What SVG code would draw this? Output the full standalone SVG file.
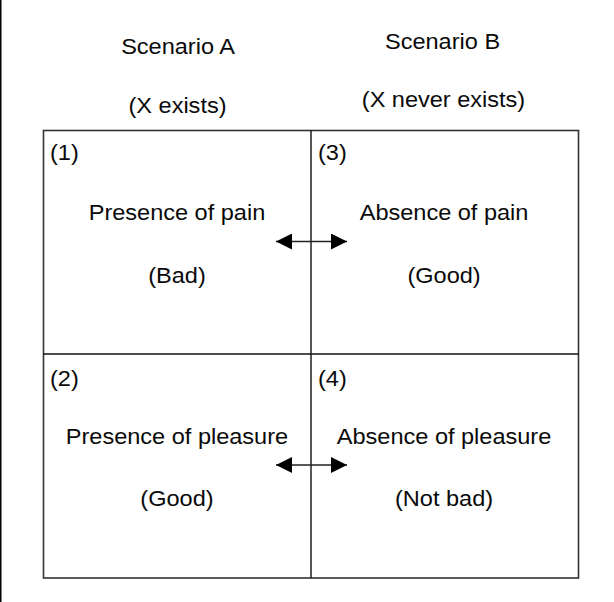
<svg xmlns="http://www.w3.org/2000/svg" width="614" height="602" viewBox="0 0 614 602">
<style>
.t{font-family:"Liberation Sans",Arial,sans-serif;font-size:22px;fill:#0a0a0a;text-anchor:middle}
.n{font-family:"Liberation Sans",Arial,sans-serif;font-size:22px;fill:#0a0a0a}
.frame{fill:none;stroke:#333;stroke-width:1.6}
.div{stroke:#111;stroke-width:1.4}
.arr{stroke:#222;stroke-width:1.6;fill:none}
</style>
<defs>
<marker id="ah" viewBox="0 0 16 16" refX="16" refY="8" markerWidth="16" markerHeight="16" markerUnits="userSpaceOnUse" orient="auto-start-reverse">
<path d="M0,0 L16,8 L0,16 Z" fill="#000"/>
</marker>
</defs>
<rect width="614" height="602" fill="#fff"/>
<rect x="0" y="0" width="1.5" height="602" fill="#000"/>
<g id="headers" transform="scale(1.07 1)">
<text class="t" x="166.4" y="54">Scenario A</text>
<text class="t" x="165.9" y="113">(X exists)</text>
<text class="t" x="413.6" y="49">Scenario B</text>
<text class="t" x="414.5" y="107">(X never exists)</text>
</g>
<g id="frame">
<rect class="frame" x="43.5" y="130.5" width="535" height="447.5"/>
<line class="div" x1="311" y1="130.5" x2="311" y2="578"/>
<line class="div" x1="43.5" y1="354" x2="578.5" y2="354"/>
</g>
<g id="cell1" transform="scale(1.07 1)">
<text class="n" x="46.7" y="160">(1)</text>
<text class="t" x="165.4" y="220">Presence of pain</text>
<text class="t" x="165.4" y="283">(Bad)</text>
</g>
<g id="cell3" transform="scale(1.07 1)">
<text class="n" x="297.2" y="160">(3)</text>
<text class="t" x="415" y="220">Absence of pain</text>
<text class="t" x="415" y="283">(Good)</text>
</g>
<g id="cell2" transform="scale(1.07 1)">
<text class="n" x="46.7" y="386">(2)</text>
<text class="t" x="165.4" y="444">Presence of pleasure</text>
<text class="t" x="165.4" y="506">(Good)</text>
</g>
<g id="cell4" transform="scale(1.07 1)">
<text class="n" x="297.2" y="386">(4)</text>
<text class="t" x="415" y="444">Absence of pleasure</text>
<text class="t" x="415" y="506">(Not bad)</text>
</g>
<g id="connectors">
<line class="arr" x1="276" y1="241.5" x2="347" y2="241.5" marker-start="url(#ah)" marker-end="url(#ah)"/>
<line class="arr" x1="276" y1="465" x2="347" y2="465" marker-start="url(#ah)" marker-end="url(#ah)"/>
</g>
</svg>
